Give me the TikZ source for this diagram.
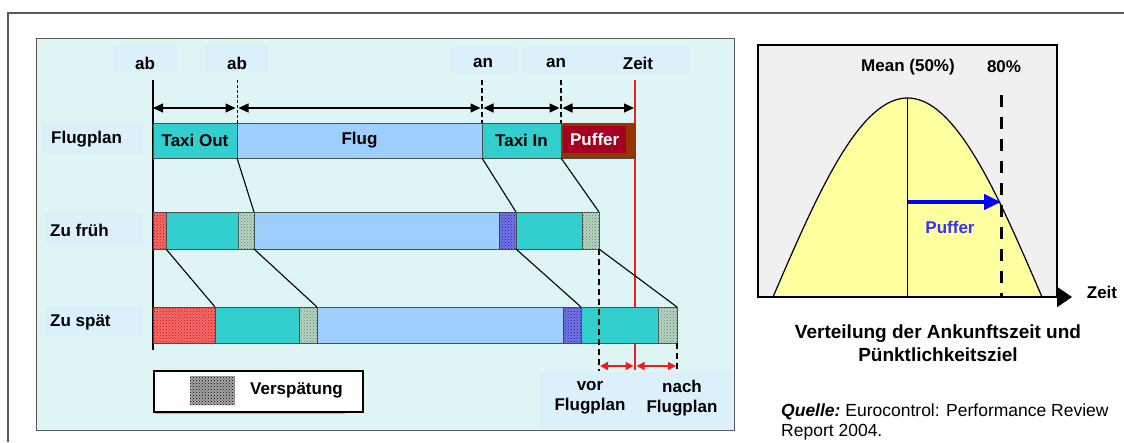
\documentclass[tikz,border=0pt]{standalone}
\usepackage{fontspec}
\setmainfont{Liberation Sans}
\usetikzlibrary{patterns,arrows.meta}
\definecolor{panel}{RGB}{223,244,245}
\definecolor{lblbg}{RGB}{220,240,251}
\definecolor{teal1}{RGB}{51,206,206}
\definecolor{sky}{RGB}{158,206,252}
\definecolor{brown1}{RGB}{153,51,0}
\definecolor{crim}{RGB}{165,0,33}
\definecolor{grayfill}{RGB}{240,240,240}
\definecolor{yel}{RGB}{255,255,160}
\definecolor{redhb}{RGB}{238,110,110}
\definecolor{redhd}{RGB}{230,0,0}
\definecolor{greenhb}{RGB}{185,212,195}
\definecolor{greenhd}{RGB}{80,130,100}
\definecolor{bluehb}{RGB}{120,120,225}
\definecolor{bluehd}{RGB}{20,20,180}
\definecolor{barline}{RGB}{70,80,80}
\definecolor{frame}{RGB}{90,90,90}
\definecolor{redline}{RGB}{235,30,30}
\definecolor{pufblue}{RGB}{51,51,255}
\begin{document}
\begin{tikzpicture}[x=1pt,y=-1pt,
  font=\fontsize{17}{20}\selectfont\bfseries,
  seg/.style={draw=barline, line width=0.8pt, inner sep=0pt, outer sep=0pt, anchor=north west},
  redh/.style={fill=redhb, postaction={pattern=crosshatch dots, pattern color=redhd}},
  greenh/.style={fill=greenhb, postaction={pattern=crosshatch dots, pattern color=greenhd}},
  blueh/.style={fill=bluehb, postaction={pattern=crosshatch dots, pattern color=bluehd}},
  lbl/.style={inner sep=0pt},
  dim/.style={>={Triangle[length=10pt,width=9pt]}, <->, line width=1.3pt},
  conn/.style={line width=1.1pt},
  tick/.style={line width=1.6pt, dash pattern=on 5pt off 3pt},
  vdash/.style={line width=1.5pt, dash pattern=on 6pt off 4pt},
  redarr/.style={>={Triangle[length=8pt,width=8pt]}, <->, line width=1.5pt, draw=redline}
]
\useasboundingbox (0,0) rectangle (1124,442);
% outer frame
\draw[line width=1.5pt, draw=frame] (8,442) -- (8,13) -- (1124,13);
% left panel
\path[fill=panel, draw=gray!70!black, line width=1pt] (36,38) rectangle (734,430);
% label backgrounds
\fill[lblbg] (113,45) rectangle (177,72);
\fill[lblbg] (205,45) rectangle (268,72);
\fill[lblbg] (451,46) rectangle (517,73);
\fill[lblbg] (523,46) rectangle (690,73);
\fill[lblbg] (43,123) rectangle (143,153);
\fill[lblbg] (45,213) rectangle (143,245);
\fill[lblbg] (45,306) rectangle (143,336);
\fill[lblbg] (540,372) rectangle (733,429);
% top labels
\node[lbl] (ab1) at (145,63) {ab};
\node[lbl] (ab2) at (237,63) {ab};
\node[lbl] (an1) at (483,63) {an};
\node[lbl] (an2) at (556,63) {an};
\node[lbl] (zeit) at (638,63) {Zeit};
% row labels
\node[lbl, anchor=west] (rflug) at (51,139) {Flugplan};
\node[lbl, anchor=west] (rfrueh) at (50,230) {Zu früh};
\node[lbl, anchor=west] (rspaet) at (50,322) {Zu spät};
% coordinates
\coordinate (t0) at (153,80); \coordinate (b0) at (153,350);
\coordinate (t1) at (237,80); \coordinate (m1) at (237,123);
\coordinate (t2) at (482,80); \coordinate (m2) at (482,123);
\coordinate (t3) at (561,80); \coordinate (m3) at (561,123);
\coordinate (t4) at (635,80); \coordinate (b4) at (635,370);
\coordinate (a0) at (153,108); \coordinate (a1) at (237,108);
\coordinate (a2) at (482,108); \coordinate (a3) at (561,108);
\coordinate (a4) at (635,108);
% red time line and axis
\draw[line width=1.6pt, draw=redline] (t4) -- (b4);
\draw[line width=1.5pt] (t0) -- (b0);
\draw[line width=0.8pt, dash pattern=on 3pt off 2pt] (t1) -- (m1);
\draw[tick] (t2) -- (m2);
\draw[tick] (t3) -- (m3);
% dimension arrows
\draw[dim, shorten >=1.5pt] (a0) -- (a1);
\draw[dim, shorten <=1.5pt, shorten >=1.5pt] (a1) -- (a2);
\draw[dim, shorten <=1.5pt, shorten >=1.5pt] (a2) -- (a3);
\draw[dim, shorten <=1.5pt, shorten >=1pt] (a3) -- (a4);
% Flugplan row
\node[seg, fill=teal1, minimum width=84pt, minimum height=35pt] (fto) at (153,123) {Taxi Out};
\node[seg, fill=sky, minimum width=245pt, minimum height=35pt] (ffl) at (237,123) {Flug};
\node[seg, fill=teal1, minimum width=79pt, minimum height=35pt] (fti) at (482,123) {Taxi In};
\node[seg, fill=brown1, minimum width=74pt, minimum height=35pt] (fpu) at (561,123) {};
\node[anchor=north west, inner sep=0pt, fill=crim, minimum width=63pt, minimum height=27pt, text=white] (pufl) at (563,126) {Puffer};
% Zu frueh row
\node[seg, redh, minimum width=13pt, minimum height=37pt] (e1) at (153,212) {};
\node[seg, fill=teal1, minimum width=72pt, minimum height=37pt] (e2) at (166,212) {};
\node[seg, greenh, minimum width=16pt, minimum height=37pt] (e3) at (238,212) {};
\node[seg, fill=sky, minimum width=245pt, minimum height=37pt] (e4) at (254,212) {};
\node[seg, blueh, minimum width=17pt, minimum height=37pt] (e5) at (499,212) {};
\node[seg, fill=teal1, minimum width=66pt, minimum height=37pt] (e6) at (516,212) {};
\node[seg, greenh, minimum width=17pt, minimum height=37pt] (e7) at (582,212) {};
% Zu spaet row
\node[seg, redh, minimum width=62pt, minimum height=36pt] (l1) at (153,307) {};
\node[seg, fill=teal1, minimum width=84pt, minimum height=36pt] (l2) at (215,307) {};
\node[seg, greenh, minimum width=18pt, minimum height=36pt] (l3) at (299,307) {};
\node[seg, fill=sky, minimum width=246pt, minimum height=36pt] (l4) at (317,307) {};
\node[seg, blueh, minimum width=18pt, minimum height=36pt] (l5) at (563,307) {};
\node[seg, fill=teal1, minimum width=77pt, minimum height=36pt] (l6) at (581,307) {};
\node[seg, greenh, minimum width=19pt, minimum height=36pt] (l7) at (658,307) {};
% connectors
\draw[conn] (ffl.south west) -- (e4.north west);
\draw[conn] (fti.south west) -- (e6.north west);
\draw[conn] (fpu.south west) -- (e7.north east);
\draw[conn] (e2.south west) -- (l2.north west);
\draw[conn] (e4.south west) -- (l4.north west);
\draw[conn] (e6.south west) -- (l6.north west);
\draw[conn] (e7.south east) -- (l7.north east);
% dashed deviation lines
\coordinate (d1) at (599,371); \coordinate (d2) at (677,371);
\coordinate (r1) at (599,366); \coordinate (r2) at (677,366);
\coordinate (rm) at (635,366);
\draw[vdash] (e7.south east) -- (d1);
\draw[vdash] (l7.south east) -- (d2);
\draw[redarr, shorten <=1pt, shorten >=1.5pt] (r1) -- (rm);
\draw[redarr, shorten <=1.5pt, shorten >=1pt] (rm) -- (r2);
\node[lbl, align=center] (vor) at (590,398) {vor\\Flugplan};
\node[lbl, align=center] (nach) at (682,398) {nach\\Flugplan};
% legend
\fill[gray!60] (155,410) rectangle (345,414);
\node[draw, line width=2pt, fill=white, inner sep=0pt, minimum width=209pt, minimum height=41pt, anchor=north west] (leg) at (153,370) {};
\path[fill=gray!70, postaction={pattern=crosshatch dots, pattern color=black}] (190,376) rectangle (235,405);
\node[lbl, anchor=west] (legtxt) at (250,390) {Verspätung};
% right panel
\path[fill=grayfill, draw=black, line width=2pt] (758,45) rectangle (1057,297);
\path[fill=yel, draw=black, line width=1.2pt] plot[domain=-90:90, samples=90] ({907.5+134.5*\x/90},{297-199*cos(\x)}) -- cycle;
\coordinate (axl) at (758,297); \coordinate (axr) at (1072,297);
\draw[line width=2pt, -{Triangle[length=15pt,width=20pt]}] (axl) -- (axr);
\coordinate (pk) at (907.5,98); \coordinate (pkb) at (907.5,297);
\draw[line width=1.2pt] (pk) -- (pkb);
\coordinate (p8t) at (1001,95); \coordinate (p8b) at (1001,297);
\draw[line width=3pt, dash pattern=on 12pt off 10pt] (p8t) -- (p8b);
\coordinate (bl) at (908,202); \coordinate (br) at (1001,202);
\draw[draw=blue, line width=4.5pt, -{Triangle[length=17pt,width=15pt]}] (bl) -- (br);
\node[lbl, text=pufblue] (pufr) at (950,227) {Puffer};
\node[lbl] (mean) at (908,67) {Mean (50\%)};
\node[lbl] (p80) at (1004,67) {80\%};
\node[lbl] (zeitr) at (1102,292) {Zeit};
\node[lbl, align=center, font=\fontsize{19}{23}\selectfont\bfseries] (cap) at (938,343) {Verteilung der Ankunftszeit und\\Pünktlichkeitsziel};
\node[lbl, anchor=west, align=left, font=\fontsize{17.5}{20}\selectfont] (src) at (781,422) {\textbf{\textit{Quelle:}}\ Eurocontrol: Performance Review\\Report 2004.};
\end{tikzpicture}
\end{document}
